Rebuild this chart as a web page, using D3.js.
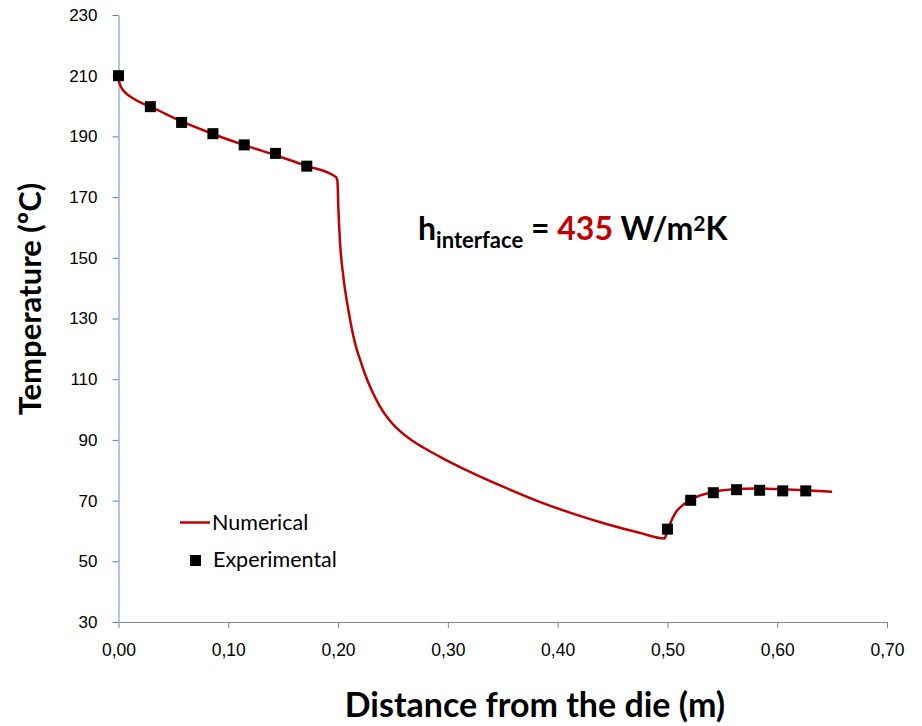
<!DOCTYPE html>
<html>
<head>
<meta charset="utf-8">
<script src="https://cdn.jsdelivr.net/npm/d3@7"></script>
<style>
  body { margin: 0; background: #fff; }
  svg { font-family: Lato, "Open Sans", sans-serif; }
</style>
</head>
<body>
<svg width="922" height="726"></svg>
<script>
// numerical curve (distance m, temperature ºC)
const numX = [0, 0.002, 0.006, 0.012, 0.02, 0.029, 0.057, 0.086, 0.114, 0.143, 0.171, 0.198,
  0.1994, 0.2003, 0.2018, 0.2048, 0.2094, 0.2155, 0.22, 0.2245, 0.231, 0.2382, 0.247, 0.2564,
  0.267, 0.2776, 0.292, 0.3079, 0.323, 0.3534, 0.3836, 0.4139, 0.4443, 0.4745, 0.4973,
  0.499, 0.502, 0.507, 0.515, 0.525, 0.54, 0.56, 0.58, 0.60, 0.625, 0.65];
const numT = [208.6, 206.5, 204.5, 202.8, 201.2, 199.8, 195.0, 190.8, 187.2, 183.8, 180.3, 176.6,
  175.4, 166, 155, 143.8, 132.8, 121.8, 116.5, 111.7, 106.0, 101.0, 96.4, 92.9,
  89.9, 87.5, 84.6, 81.6, 79.0, 74.1, 69.6, 65.7, 62.3, 59.4, 57.5,
  59.0, 62.0, 65.8, 68.8, 71.0, 72.7, 73.7, 74.0, 73.8, 73.4, 72.9];

// experimental points
const expX = [0, 0.029, 0.0575, 0.086, 0.1145, 0.143, 0.1715, 0.5, 0.5212, 0.5418, 0.563, 0.584, 0.605, 0.626];
const expT = [210, 199.8, 194.6, 190.9, 187.2, 184.4, 180.2, 60.6, 70.1, 72.6, 73.6, 73.4, 73.2, 73.2];

const xTicks = [0, 0.1, 0.2, 0.3, 0.4, 0.5, 0.6, 0.7];
const yTicks = [30, 50, 70, 90, 110, 130, 150, 170, 190, 210, 230];

const svg = d3.select("svg");
const x = d3.scaleLinear().domain([0, 0.7]).range([118.5, 887]);
const y = d3.scaleLinear().domain([30, 230]).range([622, 15]);

const fmt = d => d3.format(".2f")(d).replace(".", ",");

// x axis
const xAxis = svg.append("g")
  .attr("transform", "translate(0,622)")
  .call(d3.axisBottom(x).tickValues(xTicks).tickFormat(fmt).tickSize(6).tickSizeOuter(0));
xAxis.select(".domain").attr("stroke", "#868686");
xAxis.selectAll(".tick line").attr("stroke", "#868686");
xAxis.selectAll("text").attr("font-size", 17.5).attr("fill", "#000")
  .attr("y", 28).attr("dy", "0.35em");

// y axis
const yAxis = svg.append("g")
  .attr("transform", "translate(118.5,0)")
  .call(d3.axisLeft(y).tickValues(yTicks).tickSize(6).tickSizeOuter(0));
yAxis.select(".domain").attr("stroke", "#95B3D7").attr("stroke-width", 1.5);
yAxis.selectAll(".tick line").attr("stroke", "#4F81BD");
yAxis.selectAll("text").attr("font-size", 17).attr("fill", "#000").attr("x", -21);

// numerical line
const pts = numX.map((d, i) => [d, numT[i]]);
svg.append("path")
  .datum(pts)
  .attr("fill", "none")
  .attr("stroke", "#C00000")
  .attr("stroke-width", 2.5)
  .attr("stroke-linejoin", "round")
  .attr("d", d3.line().x(d => x(d[0])).y(d => y(d[1])).curve(d3.curveMonotoneX));

// experimental markers
const s = 11;
svg.selectAll(".exp")
  .data(expX.map((d, i) => [d, expT[i]]))
  .enter()
  .append("rect")
  .attr("class", "exp")
  .attr("x", d => x(d[0]) - s / 2)
  .attr("y", d => y(d[1]) - s / 2)
  .attr("width", s)
  .attr("height", s)
  .attr("fill", "#000");

// axis titles
svg.append("text")
  .attr("x", 535).attr("y", 717)
  .attr("text-anchor", "middle")
  .attr("font-size", 34).attr("font-weight", "bold")
  .text("Distance from the die (m)");
svg.append("text")
  .attr("transform", "translate(41,299) rotate(-90)")
  .attr("text-anchor", "middle")
  .attr("font-size", 31).attr("font-weight", "bold")
  .text("Temperature (ºC)");

// annotation
const ann = svg.append("text")
  .attr("x", 418).attr("y", 240)
  .attr("font-size", 32).attr("font-weight", "bold");
ann.append("tspan").text("h");
ann.append("tspan").attr("font-size", 22).attr("dy", 8).text("interface");
ann.append("tspan").attr("dy", -8).text(" = ");
ann.append("tspan").attr("fill", "#C00000").text("435");
ann.append("tspan").text(" W/m");
ann.append("tspan").attr("font-size", 21).attr("dy", -9).text("2");
ann.append("tspan").attr("dy", 9).text("K");

// legend
svg.append("line")
  .attr("x1", 180).attr("x2", 210).attr("y1", 522.5).attr("y2", 522.5)
  .attr("stroke", "#C00000").attr("stroke-width", 2.5);
svg.append("text").attr("x", 212).attr("y", 530).attr("font-size", 21.5).text("Numerical");
svg.append("rect").attr("x", 190).attr("y", 555).attr("width", 11).attr("height", 11).attr("fill", "#000");
svg.append("text").attr("x", 213).attr("y", 567).attr("font-size", 21.5).text("Experimental");
</script>
</body>
</html>
